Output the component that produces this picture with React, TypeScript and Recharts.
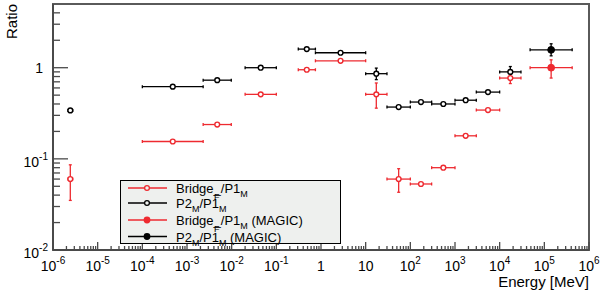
import React from 'react';
import { ScatterChart, Scatter, XAxis, YAxis, ErrorBar, ReferenceArea } from 'recharts';

// ---- data ----
const energy = [2.44e-6, 4.8e-4, 4.75e-3, 0.0447, 0.48, 2.74, 17.3, 54.8, 173, 548, 1733, 5477, 17320];
const energyLow = [2.17e-6, 1.0e-4, 2.3e-3, 0.02, 0.31, 0.75, 10, 30, 100, 300, 1000, 3000, 10000];
const energyHigh = [2.76e-6, 2.3e-3, 0.0098, 0.1, 0.75, 10, 30, 100, 300, 1000, 3000, 10000, 30000];

const bridgeRatio = [0.06, 0.155, 0.238, 0.51, 0.95, 1.19, 0.51, 0.06, 0.053, 0.08, 0.179, 0.343, 0.77];
const bridgeLow: (number | null)[] = [0.035, null, null, null, null, null, 0.36, 0.043, null, null, null, null, 0.67];
const bridgeHigh: (number | null)[] = [0.086, null, null, null, null, null, 0.68, 0.078, null, null, null, null, 0.86];

const p2Ratio = [0.34, 0.62, 0.73, 1.0, 1.6, 1.46, 0.86, 0.37, 0.42, 0.4, 0.44, 0.54, 0.9];
const p2Low: (number | null)[] = [null, null, null, null, null, null, 0.74, null, null, null, null, null, 0.79];
const p2High: (number | null)[] = [null, null, null, null, null, null, 0.99, null, null, null, null, null, 1.03];

const magicEnergy = [1.42e5];
const magicEnergyLow = [4.8e4];
const magicEnergyHigh = [4.2e5];
const magicBridge = [1.0];
const magicBridgeLow = [0.77];
const magicBridgeHigh = [1.22];
const magicP2 = [1.57];
const magicP2Low = [1.35];
const magicP2High = [1.83];

const xMajorTicks = [1e-6, 1e-5, 1e-4, 1e-3, 1e-2, 1e-1, 1, 10, 1e2, 1e3, 1e4, 1e5, 1e6];
const yMajorTicks = [0.01, 0.1, 1];
const minorMultipliers = [2, 3, 4, 5, 6, 7, 8, 9];

const legendLabels = ['Bridge', 'P2', 'Bridge', 'P2'];

const RED = '#ee2a30';
const BLACK = '#000000';
const AXIS = '#4a4a4a';
const FONT = '"Liberation Sans", Arial, Helvetica, sans-serif';

type Row = { e: number; r: number; ex: number[]; ey: number[] | null };

function build(
  e: number[], eLo: number[], eHi: number[],
  r: number[], rLo: (number | null)[], rHi: (number | null)[]
): Row[] {
  return e.map((v, i) => ({
    e: v,
    r: r[i],
    ex: [v - eLo[i], eHi[i] - v],
    ey: rLo[i] != null && rHi[i] != null ? [r[i] - (rLo[i] as number), (rHi[i] as number) - r[i]] : null,
  }));
}

const bridgeData = build(energy, energyLow, energyHigh, bridgeRatio, bridgeLow, bridgeHigh);
const p2Data = build(energy, energyLow, energyHigh, p2Ratio, p2Low, p2High);
const magicBridgeData = build(magicEnergy, magicEnergyLow, magicEnergyHigh, magicBridge, magicBridgeLow, magicBridgeHigh);
const magicP2Data = build(magicEnergy, magicEnergyLow, magicEnergyHigh, magicP2, magicP2Low, magicP2High);

const xTicks: number[] = [];
xMajorTicks.forEach((t, i) => {
  xTicks.push(t);
  if (i < xMajorTicks.length - 1) minorMultipliers.forEach((m) => xTicks.push(m * t));
});
const yTicks: number[] = [];
yMajorTicks.forEach((t) => {
  yTicks.push(t);
  minorMultipliers.forEach((m) => {
    if (m * t < 4.9) yTicks.push(m * t);
  });
});

const isMajor = (v: number) => {
  const l = Math.log10(v);
  return Math.abs(l - Math.round(l)) < 1e-6;
};

const XTick = (props: any) => {
  const { x, y, payload } = props;
  const v = payload.value;
  const major = isMajor(v);
  const exp = Math.round(Math.log10(v));
  let label: React.ReactNode = null;
  if (major) {
    if (exp === 0 || exp === 1) {
      label = (
        <text x={x} y={y + 21} textAnchor="middle" fontSize={14} fontFamily={FONT} fill="#000">
          {exp === 0 ? '1' : '10'}
        </text>
      );
    } else {
      label = (
        <text x={x} y={y + 21} textAnchor="middle" fontSize={14} fontFamily={FONT} fill="#000">
          10
          <tspan fontSize={10} dy={-7}>{String(exp)}</tspan>
        </text>
      );
    }
  }
  return (
    <g>
      <line x1={x} x2={x} y1={y} y2={y - (major ? 8 : 4)} stroke={AXIS} strokeWidth={1.3} />
      {label}
    </g>
  );
};

const YTick = (props: any) => {
  const { x, y, payload } = props;
  const v = payload.value;
  const major = isMajor(v);
  const exp = Math.round(Math.log10(v));
  let label: React.ReactNode = null;
  if (major) {
    if (exp === 0) {
      label = (
        <text x={x - 10} y={y + 5} textAnchor="end" fontSize={14} fontFamily={FONT} fill="#000">1</text>
      );
    } else {
      label = (
        <text x={x - 5} y={y + 8} textAnchor="end" fontSize={14} fontFamily={FONT} fill="#000">
          10
          <tspan fontSize={10} dy={-7}>{String(exp)}</tspan>
        </text>
      );
    }
  }
  return (
    <g>
      <line x1={x} x2={x + (major ? 15 : 7)} y1={y} y2={y} stroke={AXIS} strokeWidth={1.3} />
      {label}
    </g>
  );
};

const openCircle = (color: string) => (p: any) => (
  <circle cx={p.cx} cy={p.cy} r={2.4} fill="#fff" stroke={color} strokeWidth={1.4} />
);
const filledCircle = (color: string) => (p: any) => (
  <circle cx={p.cx} cy={p.cy} r={3.4} fill={color} stroke={color} strokeWidth={1} />
);

const LegendBox = () => {
  const rows = [188, 203, 220, 236.5];
  const lineX1 = 128;
  const lineX2 = 167;
  const mx = 147;
  const tx = 176;
  const colors = [RED, BLACK, RED, BLACK];
  return (
    <svg width={600} height={292} style={{ position: 'absolute', left: 0, top: 0, pointerEvents: 'none' }}>
      <rect x={120.5} y={180.5} width={220} height={63} fill="#eef0ee" stroke="#000" strokeWidth={1} />
      {rows.map((ry, i) => (
        <g key={i}>
          <line x1={lineX1} x2={lineX2} y1={ry} y2={ry} stroke={colors[i]} strokeWidth={1.3} />
          {i < 2 ? (
            <circle cx={mx} cy={ry} r={2.4} fill="#eef0ee" stroke={colors[i]} strokeWidth={1.3} />
          ) : (
            <circle cx={mx} cy={ry} r={3.4} fill={colors[i]} />
          )}
          {i % 2 === 0 ? (
            <>
              <text x={tx} y={ry + 5} fontSize={13} fontFamily={FONT} fill="#000">
                {legendLabels[i]}_/P1
                <tspan fontSize={9} dy={4}>M</tspan>
                {i === 2 ? <tspan dy={-4}> (MAGIC)</tspan> : null}
              </text>
              <text x={214} y={ry + 12} fontSize={9} fontFamily={FONT} fill="#000">F</text>
            </>
          ) : (
            <text x={tx} y={ry + 5} fontSize={13} fontFamily={FONT} fill="#000">
              {legendLabels[i]}
              <tspan fontSize={9} dy={4}>M</tspan>
              <tspan dy={-4}>/P1</tspan>
              <tspan fontSize={9} dy={4}>M</tspan>
              {i === 3 ? <tspan dy={-4}> (MAGIC)</tspan> : null}
            </text>
          )}
        </g>
      ))}
      <text
        x={0}
        y={0}
        transform="translate(16.5,4) rotate(-90)"
        textAnchor="end"
        fontSize={15}
        fontFamily={FONT}
        fill="#000"
      >
        Ratio
      </text>
      <text x={589} y={287} textAnchor="end" fontSize={15} fontFamily={FONT} fill="#000">
        Energy [MeV]
      </text>
    </svg>
  );
};

export default function App() {
  return (
    <div style={{ position: 'fixed', left: 0, top: 0, width: 600, height: 292, background: '#fff' }}>
      <ScatterChart width={600} height={292} margin={{ top: 4, right: 11, bottom: 0, left: 0 }}>
        <ReferenceArea
          x1={1e-6}
          x2={1e6}
          y1={0.01}
          y2={5}
          fill="none"
          fillOpacity={0}
          stroke="#5a5a5a"
          strokeWidth={2}
          isAnimationActive={false}
        />
        <XAxis
          type="number"
          dataKey="e"
          scale="log"
          domain={[1e-6, 1e6]}
          ticks={xTicks}
          interval={0}
          tick={XTick}
          tickSize={0}
          tickMargin={0}
          tickLine={false}
          height={42}
          axisLine={{ stroke: AXIS, strokeWidth: 2 }}
          allowDataOverflow
        />
        <YAxis
          type="number"
          dataKey="r"
          scale="log"
          domain={[0.01, 5]}
          ticks={yTicks}
          interval={0}
          tick={YTick}
          tickSize={0}
          tickMargin={0}
          tickLine={false}
          width={53}
          axisLine={{ stroke: AXIS, strokeWidth: 2 }}
          allowDataOverflow
        />
        <Scatter data={bridgeData} isAnimationActive={false} shape={openCircle(RED)}>
          <ErrorBar dataKey="ex" direction="x" stroke={RED} width={1.5} strokeWidth={1.3} isAnimationActive={false} />
          <ErrorBar dataKey="ey" direction="y" stroke={RED} width={1.5} strokeWidth={1.3} isAnimationActive={false} />
        </Scatter>
        <Scatter data={p2Data} isAnimationActive={false} shape={openCircle(BLACK)}>
          <ErrorBar dataKey="ex" direction="x" stroke={BLACK} width={1.5} strokeWidth={1.3} isAnimationActive={false} />
          <ErrorBar dataKey="ey" direction="y" stroke={BLACK} width={1.5} strokeWidth={1.3} isAnimationActive={false} />
        </Scatter>
        <Scatter data={magicP2Data} isAnimationActive={false} shape={filledCircle(BLACK)}>
          <ErrorBar dataKey="ex" direction="x" stroke={BLACK} width={1.5} strokeWidth={1.3} isAnimationActive={false} />
          <ErrorBar dataKey="ey" direction="y" stroke={BLACK} width={1.5} strokeWidth={1.3} isAnimationActive={false} />
        </Scatter>
        <Scatter data={magicBridgeData} isAnimationActive={false} shape={filledCircle(RED)}>
          <ErrorBar dataKey="ex" direction="x" stroke={RED} width={1.5} strokeWidth={1.3} isAnimationActive={false} />
          <ErrorBar dataKey="ey" direction="y" stroke={RED} width={1.5} strokeWidth={1.3} isAnimationActive={false} />
        </Scatter>
      </ScatterChart>
      <LegendBox />
    </div>
  );
}
